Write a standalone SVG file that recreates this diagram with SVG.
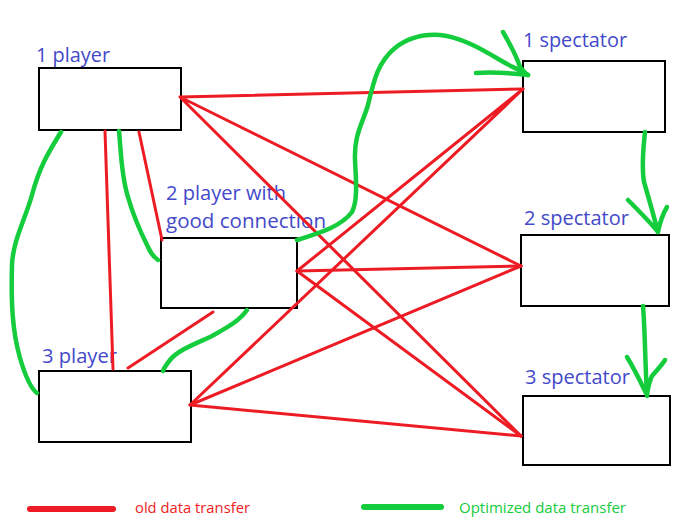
<svg xmlns="http://www.w3.org/2000/svg" width="696" height="532" viewBox="0 0 696 532">
<style>
.box{fill:#fff;stroke:#000;stroke-width:2}
.lbl{font-family:"Open Sans","Noto Sans",sans-serif;font-size:20px;fill:#4349c9}
.red{fill:none;stroke:#ed1c24;stroke-width:3;stroke-linecap:round}
.grn{fill:none;stroke:#14cc3c;stroke-width:4.5;stroke-linecap:round;stroke-linejoin:round}
.leg{font-family:"Open Sans","Noto Sans",sans-serif;font-size:15px}
</style>
<rect width="696" height="532" fill="#fff"/>
<g id="player1"><rect class="box" x="39" y="68" width="142" height="62"/><text class="lbl" x="36" y="62" textLength="74" lengthAdjust="spacingAndGlyphs">1 player</text></g>
<g id="player2"><rect class="box" x="161" y="238" width="136" height="70"/><text class="lbl" x="166" y="200" textLength="120" lengthAdjust="spacingAndGlyphs">2 player with</text><text class="lbl" x="166" y="228" textLength="160" lengthAdjust="spacingAndGlyphs">good connection</text></g>
<g id="player3"><rect class="box" x="39" y="371" width="152" height="71"/><text class="lbl" x="42" y="363" textLength="75" lengthAdjust="spacingAndGlyphs">3 player</text></g>
<g id="spectator1"><rect class="box" x="523" y="61" width="142" height="71"/><text class="lbl" x="523" y="47" textLength="104" lengthAdjust="spacingAndGlyphs">1 spectator</text></g>
<g id="spectator2"><rect class="box" x="521" y="235" width="148" height="71"/><text class="lbl" x="524" y="225" textLength="105" lengthAdjust="spacingAndGlyphs">2 spectator</text></g>
<g id="spectator3"><rect class="box" x="523" y="396" width="147" height="69"/><text class="lbl" x="525" y="384" textLength="105" lengthAdjust="spacingAndGlyphs">3 spectator</text></g>
<g id="connectors">
<path class="red" d="M180 97L523 89M180 97L521 266M180 97L521 436"/>
<path class="red" d="M523 89L297 271M523 89L190 405"/>
<path class="red" d="M297 271L521 266M297 271L521 436"/>
<path class="red" d="M190 405L521 266M190 405L521 436"/>
<path class="red" d="M105 131L113 369M139 132L162 240M128 368L213 312"/>
<path class="grn" d="M61 132C50 150 40 165 32 195C25 220 13 240 12 265C11 300 12 330 20 358C25 375 30 388 37 393"/>
<path class="grn" d="M119 131C121 150 121 175 128 197C133 215 142 235 148 247C151 254 155 258 158 260"/>
<path class="grn" d="M247 310C240 320 230 326 212 336C195 344 178 350 170 360C166 365 164 368 163 371"/>
<path class="grn" d="M297 240C315 234 340 228 352 212C358 200 356 180 355 160C354 135 362 125 368 105C374 80 378 62 395 48C410 36 425 34 440 35C460 37 480 48 500 60C510 66 520 70 528 75"/>
<path class="grn" d="M503 32C510 44 516 55 520 67L526 74M476 73C490 72 510 73 528 75"/>
<path class="grn" d="M645 132C643 150 642 170 644 182C648 195 652 210 658 232M628 200C640 212 650 222 658 232C660 222 664 212 667 207"/>
<path class="grn" d="M643 306C645 330 645 360 647 396M627 357C635 370 642 385 647 395C648 388 650 380 652 376C657 370 662 365 665 360"/>
</g>
<g id="legend">
<path d="M30 509H113" stroke="#ed1c24" stroke-width="6" stroke-linecap="round"/>
<text class="leg" x="135" y="513" fill="#ed1c24" textLength="115" lengthAdjust="spacingAndGlyphs">old data transfer</text>
<path d="M364 507H441" stroke="#14cc3c" stroke-width="6" stroke-linecap="round"/>
<text class="leg" x="459" y="513" fill="#14cc3c" textLength="167" lengthAdjust="spacingAndGlyphs">Optimized data transfer</text>
</g>
</svg>
